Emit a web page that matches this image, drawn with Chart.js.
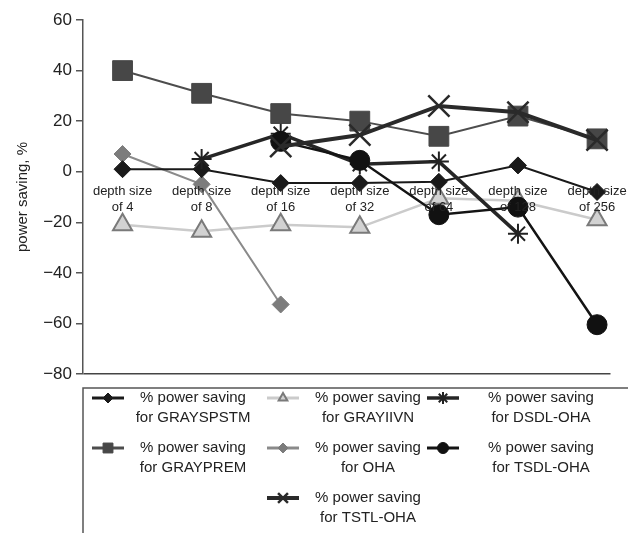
<!DOCTYPE html>
<html>
<head>
<meta charset="utf-8">
<script src="https://cdn.jsdelivr.net/npm/chart.js@4.4.1/dist/chart.umd.min.js"></script>
<style>
  html, body { margin: 0; padding: 0; background: #fff; }
  #wrap { width: 628px; height: 533px; position: relative; }
</style>
</head>
<body>
<div id="wrap"><canvas id="chart"></canvas></div>
<script>
// categories along the x axis
var categories = [
    ['depth size', 'of 4'],
    ['depth size', 'of 8'],
    ['depth size', 'of 16'],
    ['depth size', 'of 32'],
    ['depth size', 'of 64'],
    ['depth size', 'of 128'],
    ['depth size', 'of 256']
];

// % power saving
var grayspstm = [1, 1, -4.5, -4.5, -4, 2.5, -8];
var grayiivn  = [-21, -23.5, -21, -22, -10.5, -11.5, -19];
var dsdlOha   = [null, 5, 15, 3, 4, -24.5, null];
var grayprem  = [40, 31, 23, 20, 14, 22, 13];
var oha       = [7, -5, -52.5, null, null, null, null];
var tsdlOha   = [null, null, 12, 4.5, -17, -14, -60.5];
var tstlOha   = [null, null, 10, 14.5, 26, 23.5, 12.5];

var yTicks = [-80, -60, -40, -20, 0, 20, 40, 60];

var seriesLabels = [
    ['% power saving', 'for GRAYSPSTM'],
    ['% power saving', 'for GRAYIIVN'],
    ['% power saving', 'for DSDL-OHA'],
    ['% power saving', 'for GRAYPREM'],
    ['% power saving', 'for OHA'],
    ['% power saving', 'for TSDL-OHA'],
    ['% power saving', 'for TSTL-OHA']
];

var FONT = "'Liberation Sans', Arial, Helvetica, sans-serif";
Chart.defaults.font.family = FONT;
Chart.defaults.color = '#222';

function toPoints(arr) {
    return arr.map(function (v, i) { return { x: i, y: v }; });
}

// style of each series: line, marker, and legend slot (col, row)
var styles = [
    { line: '#1a1a1a', width: 2,   point: 'rectRot',  r: 8.5, fill: '#1a1a1a', edge: '#1a1a1a', pw: 1,   lr: 5,   slot: [0, 0] },
    { line: '#cbcbcb', width: 2.5, point: 'triangle', r: 11,  fill: '#d2d2d2', edge: '#7a7a7a', pw: 2,   lr: 5,   slot: [1, 0] },
    { line: '#262626', width: 3.5, point: 'star',     r: 10,  fill: '#222',    edge: '#222',    pw: 2,   lr: 6,   slot: [2, 0] },
    { line: '#4d4d4d', width: 2,   point: 'rect',     r: 14,  fill: '#474747', edge: '#474747', pw: 1,   lr: 7,   slot: [0, 1] },
    { line: '#8a8a8a', width: 2,   point: 'rectRot',  r: 8.5, fill: '#7c7c7c', edge: '#7c7c7c', pw: 1,   lr: 5,   slot: [1, 1] },
    { line: '#141414', width: 2.5, point: 'circle',   r: 10,  fill: '#111',    edge: '#111',    pw: 1,   lr: 5.5, slot: [2, 1] },
    { line: '#2a2a2a', width: 4,   point: 'crossRot', r: 15,  fill: '#2a2a2a', edge: '#2a2a2a', pw: 2.5, lr: 7,   slot: [1, 2] }
];
var seriesData = [grayspstm, grayiivn, dsdlOha, grayprem, oha, tsdlOha, tstlOha];
// drawing order: higher order is drawn first (underneath)
var drawOrder = [3, 7, 2, 5, 4, 1, 0];

var datasets = seriesData.map(function (d, i) {
    var s = styles[i];
    return {
        label: seriesLabels[i].join(' '),
        data: toPoints(d),
        borderColor: s.line,
        borderWidth: s.width,
        pointStyle: s.point,
        pointRadius: s.r,
        pointHoverRadius: s.r,
        pointBackgroundColor: s.fill,
        pointBorderColor: s.edge,
        pointBorderWidth: s.pw,
        fill: false,
        tension: 0,
        spanGaps: false,
        order: drawOrder[i]
    };
});

// category labels sit just under the zero line, on top of the lines
var zeroLabels = {
    id: 'zeroLabels',
    afterDatasetsDraw: function (chart) {
        var ctx = chart.ctx;
        var xs = chart.scales.x, ys = chart.scales.y;
        var y0 = ys.getPixelForValue(0);
        ctx.save();
        ctx.fillStyle = '#222';
        ctx.font = '13px ' + FONT;
        ctx.textAlign = 'center';
        ctx.textBaseline = 'middle';
        categories.forEach(function (c, i) {
            var x = xs.getPixelForValue(i);
            c.forEach(function (t, k) {
                ctx.fillText(t, x, y0 + 20 + k * 15.5);
            });
        });
        ctx.restore();
    }
};

// boxed legend below the plot
var boxLegend = {
    id: 'boxLegend',
    afterDraw: function (chart) {
        var ctx = chart.ctx;
        var area = chart.chartArea;
        ctx.save();
        ctx.strokeStyle = '#555';
        ctx.lineWidth = 1.5;
        ctx.strokeRect(area.left, 388, 700, 200);

        var lineX = [92, 267, 427];
        var textX = [193, 368, 541];
        var rowY = [398, 448, 498];
        chart.data.datasets.forEach(function (ds, i) {
            var s = styles[i];
            var cx = lineX[s.slot[0]];
            var cy = rowY[s.slot[1]];
            ctx.strokeStyle = s.line;
            ctx.lineWidth = Math.max(s.width, 3);
            ctx.beginPath();
            ctx.moveTo(cx, cy);
            ctx.lineTo(cx + 32, cy);
            ctx.stroke();
            ctx.fillStyle = s.fill;
            ctx.strokeStyle = s.edge;
            ctx.lineWidth = s.pw;
            Chart.helpers.drawPoint(ctx, { pointStyle: s.point, radius: s.lr, rotation: 0, borderWidth: s.pw }, cx + 16, cy);

            ctx.fillStyle = '#222';
            ctx.font = '15px ' + FONT;
            ctx.textAlign = 'center';
            ctx.textBaseline = 'middle';
            seriesLabels[i].forEach(function (t, k) {
                ctx.fillText(t, textX[s.slot[0]], cy + k * 20);
            });
        });
        ctx.restore();
    }
};

new Chart(document.getElementById('chart'), {
    type: 'line',
    data: { datasets: datasets },
    plugins: [zeroLabels, boxLegend],
    options: {
        responsive: true,
        maintainAspectRatio: false,
        animation: false,
        layout: { padding: { top: 20, right: 0, bottom: 159, left: 0 } },
        plugins: {
            legend: { display: false },
            tooltip: { enabled: false }
        },
        scales: {
            x: {
                type: 'linear',
                position: { y: 0 },
                min: -0.5,
                max: 6.17,
                ticks: { display: false },
                grid: { display: false, drawTicks: false },
                border: { display: false }
            },
            y: {
                min: -80,
                max: 60,
                afterBuildTicks: function (scale) {
                    scale.ticks = yTicks.map(function (v) { return { value: v }; });
                },
                afterFit: function (scale) { scale.width = 83; },
                ticks: {
                    padding: 4,
                    font: { size: 17 },
                    color: '#222',
                    callback: function (v) { return v < 0 ? '\u2212' + Math.abs(v) : String(v); }
                },
                grid: {
                    drawOnChartArea: true,
                    drawTicks: true,
                    tickLength: 7,
                    tickColor: '#555',
                    lineWidth: 1.5,
                    color: function (c) { return c.tick && c.tick.value === -80 ? '#444' : 'rgba(0,0,0,0)'; }
                },
                border: { display: true, color: '#555', width: 1.5 },
                title: {
                    display: true,
                    text: 'power saving, %',
                    font: { size: 15 },
                    color: '#222',
                    padding: { top: 14, bottom: 0 }
                }
            }
        }
    }
});
</script>
</body>
</html>
